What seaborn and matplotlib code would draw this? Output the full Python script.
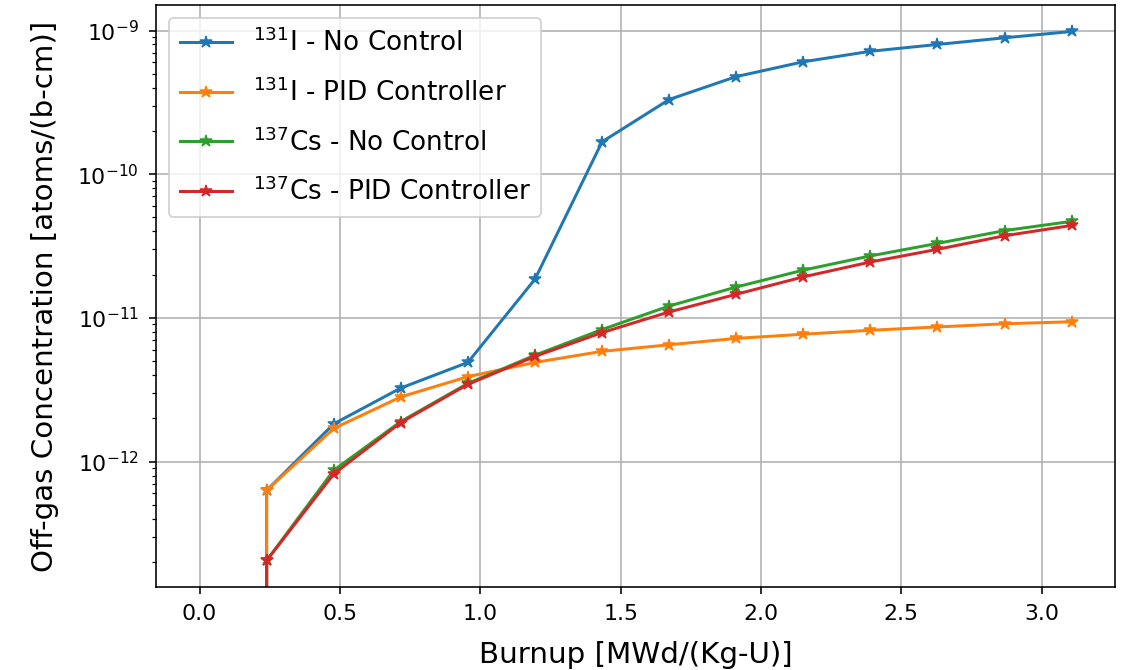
import matplotlib
matplotlib.use("Agg")
import matplotlib.pyplot as plt
import seaborn as sns
import pandas as pd

# burnup steps [MWd/(Kg-U)]
burnup = [0.0, 0.239, 0.478, 0.717, 0.956, 1.195, 1.434, 1.673, 1.912, 2.151, 2.390, 2.629, 2.868, 3.107]

# off-gas concentrations [atoms/(b-cm)], first step is zero
i131_no_control = [0.0, 6.3e-13, 1.83e-12, 3.25e-12, 4.9e-12, 1.86e-11, 1.68e-10, 3.31e-10,
                   4.78e-10, 6.06e-10, 7.17e-10, 8.0e-10, 8.9e-10, 9.85e-10]
i131_pid = [0.0, 6.3e-13, 1.70e-12, 2.82e-12, 3.9e-12, 4.9e-12, 5.85e-12, 6.5e-12,
            7.2e-12, 7.7e-12, 8.2e-12, 8.65e-12, 9.1e-12, 9.4e-12]
cs137_no_control = [0.0, 2.05e-13, 8.7e-13, 1.9e-12, 3.5e-12, 5.5e-12, 8.3e-12, 1.21e-11,
                    1.64e-11, 2.15e-11, 2.7e-11, 3.3e-11, 4.05e-11, 4.7e-11]
cs137_pid = [0.0, 2.05e-13, 8.2e-13, 1.87e-12, 3.45e-12, 5.4e-12, 7.9e-12, 1.10e-11,
             1.46e-11, 1.93e-11, 2.45e-11, 3.0e-11, 3.73e-11, 4.4e-11]

labels = [r"$^{131}$I - No Control", r"$^{131}$I - PID Controller",
          r"$^{137}$Cs - No Control", r"$^{137}$Cs - PID Controller"]
series = [i131_no_control, i131_pid, cs137_no_control, cs137_pid]
colors = ["#1f77b4", "#ff7f0e", "#2ca02c", "#d62728"]

fig = plt.figure(figsize=(1122 / 144, 670 / 144), dpi=144)
ax = fig.add_subplot(111)

for vals, lab, c in zip(series, labels, colors):
    df = pd.DataFrame({"burnup": burnup, "conc": vals})
    sns.lineplot(data=df, x="burnup", y="conc", ax=ax, color=c, marker="*",
                 markersize=6.5, markeredgecolor=c, linewidth=1.5, label=lab,
                 errorbar=None, sort=False)

ax.set_yscale("log")
ax.relim()
ax.autoscale_view()
ax.grid(True, which="major", color="#b0b0b0", linewidth=0.8)

ax.set_xlabel("Burnup [MWd/(Kg-U)]", fontsize=14.7, labelpad=8.5)
ax.set_ylabel("Off-gas Concentration [atoms/(b-cm)]", fontsize=14.7, labelpad=9)
ax.tick_params(axis="both", which="major", labelsize=11, pad=5)
ax.legend(loc="upper left", fontsize=13.1, labelspacing=0.81)

fig.subplots_adjust(left=0.139, right=0.994, bottom=0.124, top=0.9925)
fig.savefig("out.png", dpi=144)
